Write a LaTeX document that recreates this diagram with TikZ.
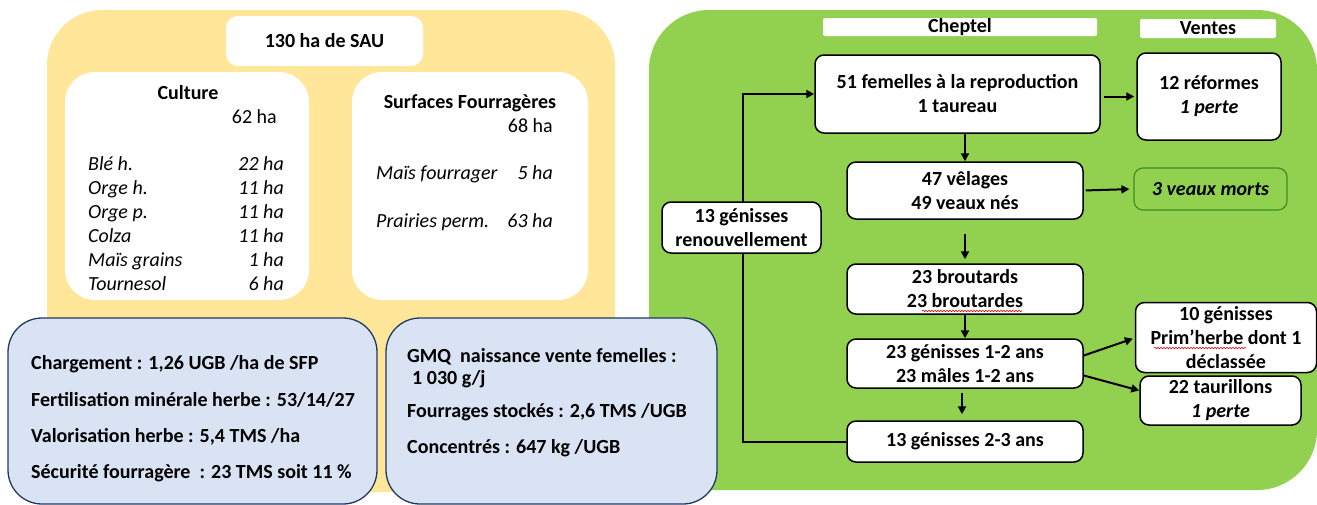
\documentclass[tikz,border=0pt]{standalone}
\usepackage{fontspec}
\setmainfont{Carlito}
\usetikzlibrary{arrows.meta,decorations.pathmorphing}

\definecolor{sauyellow}{HTML}{FFE699}
\definecolor{cheptelgreen}{HTML}{92D050}
\definecolor{infoblue}{HTML}{DAE3F3}
\definecolor{infoborder}{HTML}{203864}
\definecolor{mortgreen}{HTML}{3E8E1E}

\begin{document}
\fontsize{20}{24}\selectfont
\begin{tikzpicture}[x=1pt,y=-1pt,
    flow/.style={-{Triangle[length=8pt,width=8pt]},line width=2pt},
    texte/.style={inner sep=0pt,text height=19pt,text depth=4pt},
    lot/.style={draw,fill=white,line width=1.5pt,rounded corners=9pt,inner sep=0pt,align=center,font=\bfseries},
    soulign/.style={red,line width=0.6pt,decorate,decoration={snake,amplitude=0.8pt,segment length=3pt}}]
\useasboundingbox (0,0) rectangle (1317,504);

% fonds
\fill[sauyellow,rounded corners=55pt] (47,10) rectangle (615,492);
\fill[cheptelgreen,rounded corners=60pt] (649,10) rectangle (1317,490);

% surfaces
\begin{scope}[every node/.style={fill=white,inner sep=0pt}]
    \node[rounded corners=12pt,minimum width=197pt,minimum height=50pt] (sau) at (324.5,41) {\bfseries 130 ha de SAU};
    \node[rounded corners=30pt,minimum width=244pt,minimum height=228pt] (culture) at (187,186) {};
    \node[rounded corners=30pt,minimum width=236pt,minimum height=228pt] (fourrage) at (470,186) {};
\end{scope}

\node[texte,font=\bfseries] (culturetitre) at (188,92) {Culture};
\node[texte,anchor=east] (culturetotal) at (277,116) {62 ha};
\foreach \nom/\surf [count=\i] in {Blé h./22,Orge h./11,Orge p./11,Colza/11,Maïs grains/1,Tournesol/6}
{
    \node[texte,anchor=west,font=\itshape] (cl\i) at (88,139+24*\i) {\nom};
    \node[texte,anchor=east,font=\itshape] (cv\i) at (284,139+24*\i) {\surf{} ha};
}

\node[texte,font=\bfseries] (sftitre) at (470,101) {Surfaces Fourragères};
\node[texte,anchor=east] (sftotal) at (553,125) {68 ha};
\node[texte,anchor=west,font=\itshape] (mf) at (376,172) {Maïs fourrager};
\node[texte,anchor=east,font=\itshape] (mfha) at (553,172) {5 ha};
\node[texte,anchor=west,font=\itshape] (pp) at (376,220) {Prairies perm.};
\node[texte,anchor=east,font=\itshape] (ppha) at (553,220) {63 ha};

% indicateurs
\begin{scope}[every node/.style={draw=infoborder,fill=infoblue,line width=1.3pt,rounded corners=34pt,inner sep=0pt}]
    \node[minimum width=369pt,minimum height=186pt] (indic) at (192.5,411) {};
    \node[minimum width=331pt,minimum height=186pt] (gmq) at (551.5,411) {};
\end{scope}

\begin{scope}[every node/.style={texte,anchor=west,font=\bfseries}]
    \node (charg) at (31,362) {Chargement : 1,26 UGB /ha de SFP};
    \node (ferti) at (31,399) {Fertilisation minérale herbe : 53/14/27};
    \node (valo) at (31,435) {Valorisation herbe : 5,4 TMS /ha};
    \node (secu) at (31,471) {Sécurité fourragère~ : 23 TMS soit 11 \%};
    \node (gmqtxt) at (407,355) {GMQ~ naissance vente femelles :};
    \node (gmqval) at (412,377) {1 030 g/j};
    \node (stock) at (407,410) {Fourrages stockés : 2,6 TMS /UGB};
    \node (conc) at (407,446) {Concentrés : 647 kg /UGB};
\end{scope}

% cheptel
\node[fill=white,rounded corners=2pt,inner sep=0pt,minimum width=274pt,minimum height=18pt,font=\bfseries] (cheptel) at (960,27) {Cheptel};
\node[fill=white,rounded corners=2pt,inner sep=0pt,minimum width=136pt,minimum height=19pt,font=\bfseries] (ventes) at (1208,28.5) {Ventes};

\node[lot,minimum width=285pt,minimum height=78pt] (femelles) at (957.5,94) {51 femelles à la reproduction\\1 taureau};
\node[lot,minimum width=144pt,minimum height=87pt] (reformes) at (1209,96.5) {12 réformes\\\textit{1 perte}};
\node[lot,minimum width=236pt,minimum height=57pt] (velages) at (965,190.5) {47 vêlages\\49 veaux nés};
\node[lot,draw=mortgreen,fill=cheptelgreen,line width=1.2pt,minimum width=153pt,minimum height=42pt,font=\bfseries\itshape] (morts) at (1210.5,189) {3 veaux morts};
\node[lot,minimum width=236pt,minimum height=50pt] (broutards) at (965,289) {23 broutards\\23 broutardes};
\node[lot,minimum width=236pt,minimum height=49pt] (genisses12) at (965,363.5) {23 génisses 1-2 ans\\23 mâles 1-2 ans};
\node[lot,minimum width=236pt,minimum height=41pt] (genisses23) at (965,441.5) {13 génisses 2-3 ans};
\node[lot,minimum width=181pt,minimum height=70pt] (primherbe) at (1226,337.5) {10 génisses\\Prim’herbe dont 1\\déclassée};
\node[lot,minimum width=161pt,minimum height=49pt] (taurillons) at (1220.5,400.5) {22 taurillons\\\textit{1 perte}};

% soulignements du correcteur
\draw[soulign] (922,311) -- (1022,311);
\draw[soulign] (1154,348) -- (1246,348);

% flux
\coordinate (retour) at (743,94);
\draw[flow] (velages.north |- femelles.south) -- (velages.north);
\draw[flow,shorten <=3pt,shorten >=2pt] (femelles.east |- reformes.west) -- (reformes.west);
\draw[flow,shorten <=2pt,shorten >=4pt] (velages.east) -- (morts.west);
\draw[flow,shorten <=14pt,shorten >=4pt] (velages.south) -- (broutards.north);
\draw[flow] (broutards.south) -- (genisses12.north);
\draw[flow,shorten <=4pt,shorten >=6pt] ([xshift=-3pt]genisses12.south) -- ([xshift=-3pt]genisses23.north);
\draw[flow,shorten >=2pt] ([yshift=8pt]genisses12.east) -- ([yshift=-0.5pt]primherbe.west);
\draw[flow] ([yshift=-12pt]genisses12.east) -- ([yshift=10pt]taurillons.west);
\draw[flow] (genisses23.west) -| (retour) -- (femelles.west);

\node[lot,minimum width=159pt,minimum height=51pt] (renouv) at (741.5,227.5) {13 génisses\\renouvellement};
\end{tikzpicture}
\end{document}
